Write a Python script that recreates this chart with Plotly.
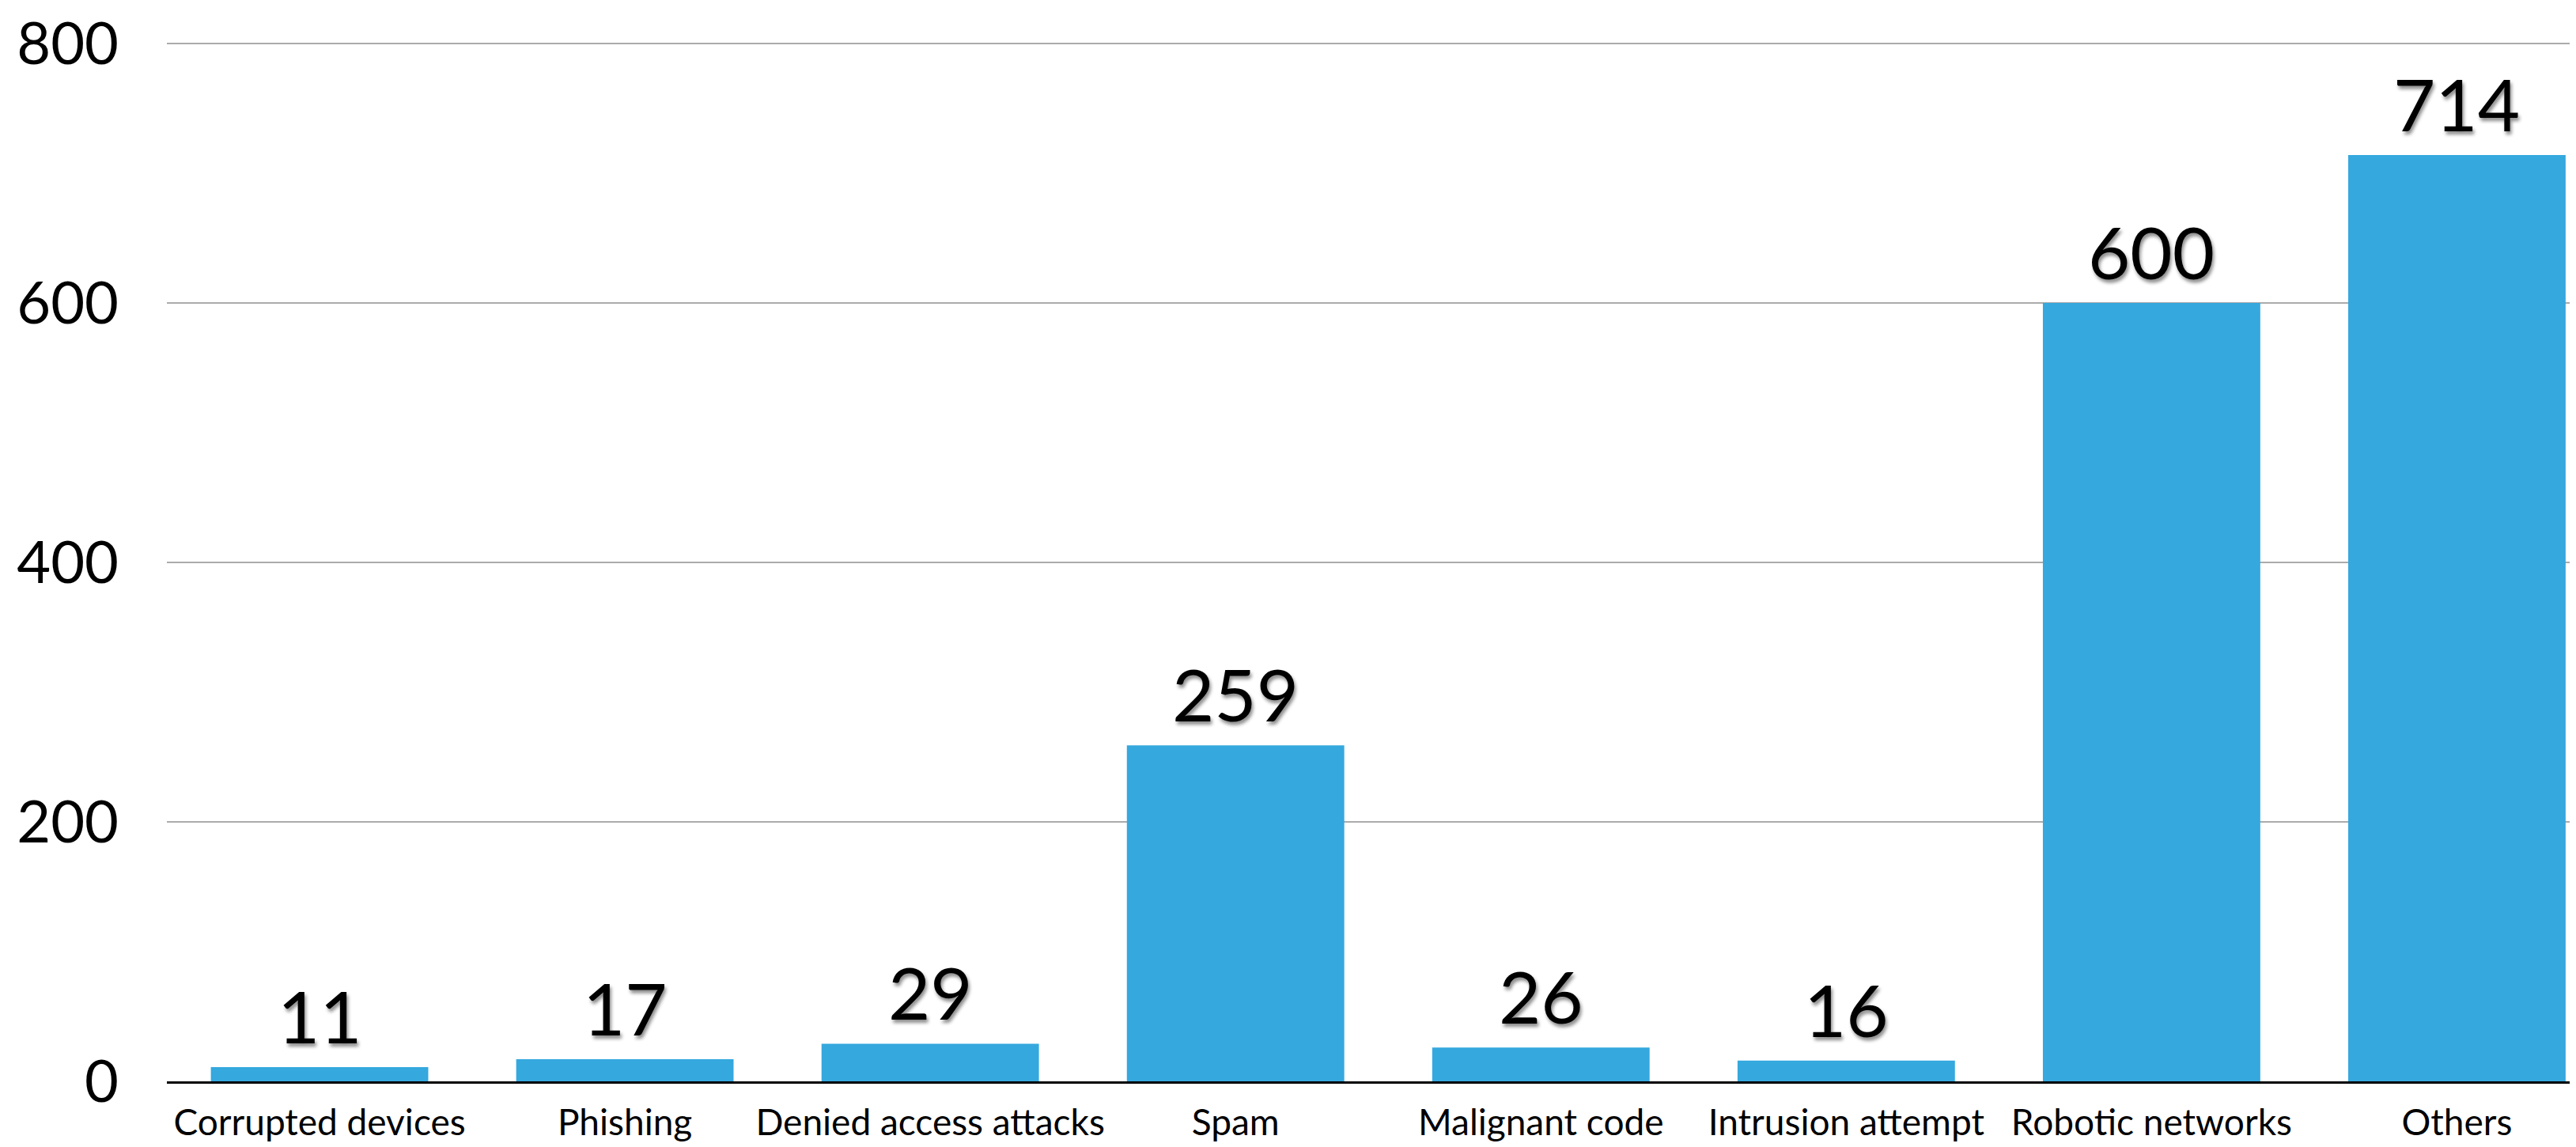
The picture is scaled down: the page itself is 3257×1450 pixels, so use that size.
import plotly.graph_objects as go

categories = ["Corrupted devices", "Phishing", "Denied access attacks", "Spam",
              "Malignant code", "Intrusion attempt", "Robotic networks", "Others"]
values = [11, 17, 29, 259, 26, 16, 600, 714]
y_ticks = [0, 200, 400, 600, 800]

FONT = "Lato"
PAGE_OFFSET = 8  # default body margin of the generated HTML page

fig = go.Figure()
fig.add_trace(go.Bar(
    x=list(range(len(categories))),
    y=values,
    marker=dict(color="#35A8DE", line=dict(width=0)),
    width=0.712,
    hoverinfo="skip",
))

for i, v in enumerate(values):
    fig.add_annotation(
        x=i, y=v, xref="x", yref="y",
        text=str(v), showarrow=False,
        xanchor="center", yanchor="bottom", yshift=8,
        font=dict(family=FONT, size=92, color="#000000",
                  shadow="2px 4px 4px rgba(0,0,0,0.45)"),
    )

fig.update_layout(
    width=3257 - PAGE_OFFSET, height=1450 - PAGE_OFFSET,
    margin=dict(l=211 - PAGE_OFFSET, r=0, t=41 - PAGE_OFFSET, b=83),
    paper_bgcolor="white", plot_bgcolor="white",
    showlegend=False,
    xaxis=dict(
        range=[-0.5, 7.39],
        tickmode="array",
        tickvals=list(range(len(categories))),
        ticktext=categories,
        tickfont=dict(family=FONT, size=46, color="#000000"),
        showgrid=False, zeroline=False,
        showline=True, linecolor="#000000", linewidth=3,
        ticks="", ticklabelstandoff=10, ticklabeloverflow="allow",
    ),
    yaxis=dict(
        range=[0, 803],
        tickmode="array",
        tickvals=y_ticks,
        ticktext=[str(t) for t in y_ticks],
        tickfont=dict(family=FONT, size=74, color="#000000"),
        showgrid=True, gridcolor="#ABABAB", gridwidth=2,
        zeroline=False, showline=False,
        ticks="", ticklabelstandoff=60, ticklabeloverflow="allow",
    ),
)

fig.write_html("out.html")
